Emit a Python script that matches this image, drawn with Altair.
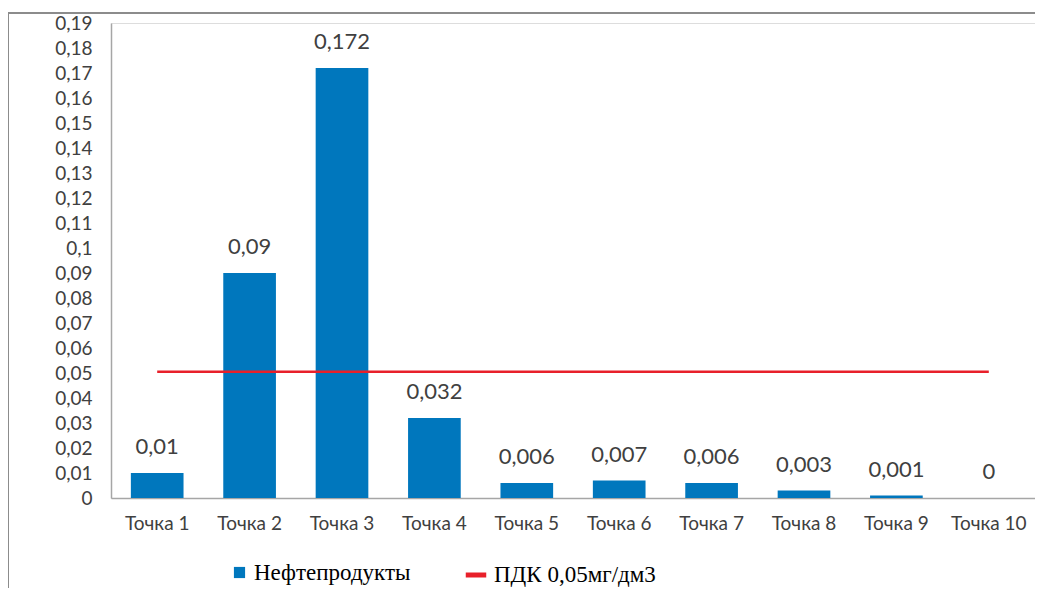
import altair as alt
import pandas as pd

categories = ["Точка 1", "Точка 2", "Точка 3", "Точка 4", "Точка 5",
              "Точка 6", "Точка 7", "Точка 8", "Точка 9", "Точка 10"]
values = [0.01, 0.09, 0.172, 0.032, 0.006, 0.007, 0.006, 0.003, 0.001, 0.0]
y_ticks = [0.0, 0.01, 0.02, 0.03, 0.04, 0.05, 0.06, 0.07, 0.08, 0.09, 0.1,
           0.11, 0.12, 0.13, 0.14, 0.15, 0.16, 0.17, 0.18, 0.19]
pdk_value = 0.0505
bar_series = "Нефтепродукты"
line_series = "ПДК 0,05мг/дм3"

df = pd.DataFrame({"cat": categories, "v": values, "series": bar_series})
dl = pd.DataFrame({"cat": categories, "v": [pdk_value] * len(categories), "series": line_series})
frame_df = pd.DataFrame({"k": [0]})

FONT = "Lato"
GRAY = "#404040"
BLUE = "#0077BD"

x_enc = alt.X("cat:N", sort=categories, title=None,
              scale=alt.Scale(paddingInner=0.43, paddingOuter=0.215),
              axis=alt.Axis(labelAngle=0, labelFont=FONT, labelFontSize=19,
                            labelColor=GRAY, ticks=False, labelPadding=16,
                            domainColor="#a6a6a6", domainWidth=1.5))
y_enc = alt.Y("v:Q", title=None,
              scale=alt.Scale(domain=[0, 0.19], nice=False),
              axis=alt.Axis(values=y_ticks,
                            labelExpr="replace(format(datum.value, '.2~f'), '.', ',')",
                            labelFont=FONT, labelFontSize=19, labelColor=GRAY,
                            labelOverlap=False, labelBound=False, labelFlush=False,
                            ticks=False, labelPadding=19, grid=False,
                            domainColor="#a6a6a6", domainWidth=1.5))

bars = alt.Chart(df).mark_bar(color=BLUE).encode(
    x=x_enc, y=y_enc,
    color=alt.Color("series:N",
                    scale=alt.Scale(domain=[bar_series], range=[BLUE]),
                    legend=alt.Legend(title=None, orient="none", legendX=117, legendY=538,
                                      symbolType="square", symbolSize=125,
                                      labelFont="Liberation Serif", labelFontSize=23,
                                      labelColor="#000000", labelOffset=3, labelLimit=400))
)

labels = alt.Chart(df).transform_calculate(
    lbl="replace(format(datum.v, '~g'), '.', ',')"
).mark_text(font=FONT, fontSize=22, color=GRAY, baseline="middle", dy=-26).encode(
    x=x_enc, y=y_enc, text="lbl:N")

line = alt.Chart(dl).mark_line(strokeWidth=2.5).encode(
    x=x_enc, y=y_enc,
    stroke=alt.Stroke("series:N",
                      scale=alt.Scale(domain=[line_series], range=["#E8202A"]),
                      legend=alt.Legend(title=None, orient="none", legendX=352, legendY=539,
                                        symbolType="stroke", symbolSize=420,
                                        symbolStrokeWidth=5,
                                        labelFont="Liberation Serif", labelFontSize=23,
                                        labelColor="#000000", labelOffset=5, labelLimit=400))
)

frame = alt.Chart(frame_df).mark_rect(fill=None, stroke="#8c8c8c", strokeWidth=2, clip=False).encode(
    x=alt.value(-103), x2=alt.value(1200), y=alt.value(-10), y2=alt.value(800))

chart = alt.layer(frame, bars, line, labels).properties(
    width=924, height=475,
    padding={"left": 103, "top": 15, "right": 0, "bottom": 90},
    autosize=alt.AutoSizeParams(type="none"),
).configure_view(stroke=None).configure(background="white")

chart.save("out.html", embed_options={"renderer": "svg", "actions": False})
